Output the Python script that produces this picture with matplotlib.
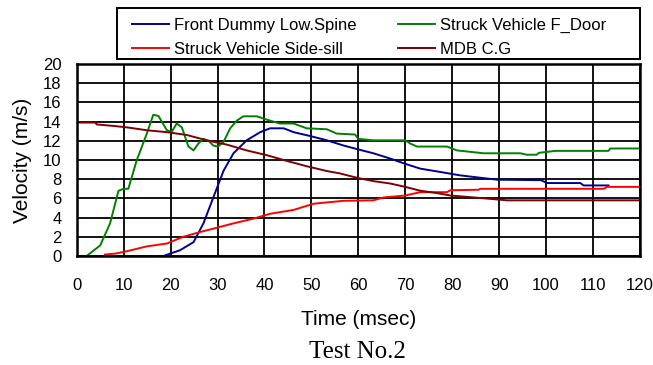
import matplotlib
matplotlib.use("Agg")
import matplotlib.pyplot as plt
from matplotlib.patches import Rectangle

# values (time in msec, velocity in m/s)
door_t = [2.1, 5.0, 7.1, 8.9, 10.0, 11.0, 12.8, 14.9, 16.3, 17.4, 19.2, 20.2, 21.3, 22.4,
          23.8, 24.9, 25.9, 27.0, 28.1, 29.1, 30.1, 31.3, 32.7, 34.1, 35.5, 38.4, 40.5,
          43.3, 46.2, 49.0, 53.3, 55.4, 59.3, 60.0, 63.2, 70.0, 71.1, 72.5, 78.9, 81.0,
          86.7, 94.5, 95.9, 98.0, 98.5, 102.0, 113.3, 113.7, 120]
door_v = [0, 1.1, 3.4, 6.8, 7.0, 7.0, 10.0, 12.7, 14.7, 14.6, 13.1, 12.9, 13.8, 13.4,
          11.4, 11.0, 11.7, 12.2, 12.0, 11.5, 11.4, 11.9, 13.3, 14.1, 14.55, 14.55, 14.2,
          13.8, 13.8, 13.3, 13.2, 12.75, 12.65, 12.2, 12.05, 12.05, 11.7, 11.4, 11.4, 11.0,
          10.7, 10.7, 10.55, 10.55, 10.75, 10.95, 10.95, 11.2, 11.2]

spine_t = [18.5, 19.9, 22.0, 24.9, 27.0, 29.1, 31.3, 33.4, 36.2, 39.1, 41.2, 44.1, 46.2,
           49.7, 53.3, 56.9, 60.0, 63.2, 66.8, 70.0, 73.2, 77.5, 81.7, 86.0, 89.6, 98.9,
           100.2, 107.3, 108.0, 113.3]
spine_v = [0, 0.25, 0.6, 1.45, 3.4, 6.1, 8.9, 10.7, 12.05, 12.9, 13.3, 13.3, 12.9,
           12.5, 12.05, 11.5, 11.1, 10.7, 10.15, 9.6, 9.1, 8.75, 8.4, 8.15, 7.95, 7.9,
           7.6, 7.6, 7.35, 7.35]

sill_t = [6.0, 8.2, 10.7, 14.9, 19.2, 22.7, 26.3, 29.9, 33.4, 37.7, 41.2, 46.2, 50.5,
          56.9, 63.2, 65.4, 70.0, 73.2, 78.9, 79.6, 85.6, 86.0, 112.3, 113.0, 120]
sill_v = [0.15, 0.25, 0.5, 1.0, 1.3, 2.0, 2.5, 2.95, 3.4, 3.9, 4.4, 4.8, 5.45,
          5.75, 5.8, 6.1, 6.3, 6.65, 6.65, 6.85, 6.9, 7.0, 7.0, 7.2, 7.2]

mdb_t = [0, 3.9, 4.3, 7.8, 10.7, 14.9, 19.2, 23.5, 27.7, 32.0, 36.2, 40.5, 44.8, 49.0,
         53.3, 56.1, 59.7, 63.2, 66.8, 70.0, 73.2, 76.8, 79.6, 84.6, 91.7, 120]
mdb_v = [13.9, 13.9, 13.7, 13.55, 13.4, 13.1, 12.9, 12.6, 12.05, 11.6, 11.0, 10.5, 9.9,
         9.35, 8.85, 8.6, 8.15, 7.8, 7.55, 7.2, 6.8, 6.55, 6.3, 6.1, 5.8, 5.8]

x_ticks = list(range(0, 121, 10))
y_ticks = list(range(0, 21, 2))

plt.rcParams['font.family'] = ['Liberation Sans', 'DejaVu Sans']

W, H = 653, 365
fig = plt.figure(figsize=(W / 100, H / 100), dpi=100)
ax = fig.add_axes([0.1175, 0.2986, 0.8625, 0.5261])

lw = 1.4
l_spine, = ax.plot(spine_t, spine_v, color='#000090', lw=lw, label='Front Dummy Low.Spine')
l_door, = ax.plot(door_t, door_v, color='#008000', lw=lw, label='Struck Vehicle F_Door')
l_sill, = ax.plot(sill_t, sill_v, color='#ff0000', lw=lw, label='Struck Vehicle Side-sill')
l_mdb, = ax.plot(mdb_t, mdb_v, color='#800000', lw=lw, label='MDB C.G')

ax.set_xlim(0, 120)
ax.set_ylim(0, 20)
ax.set_xticks(x_ticks)
ax.set_yticks(y_ticks)
ax.grid(True, color='black', lw=1.3)
ax.set_axisbelow(True)
for s in ax.spines.values():
    s.set_linewidth(1.8)
ax.tick_params(length=0, labelsize=12)
ax.tick_params(axis='x', pad=16)
ax.tick_params(axis='y', pad=11)
ax.set_xlabel('Time (msec)', fontsize=15, labelpad=12)
ax.set_ylabel('Velocity (m/s)', fontsize=15, labelpad=8)

# legend box drawn by hand, entries placed inside it
fig.patches.append(Rectangle((117 / W, 1 - 59 / H), 523 / W, 51 / H, transform=fig.transFigure,
                             facecolor='white', edgecolor='black', lw=1.4))
leg = fig.legend(handles=[l_spine, l_sill, l_door, l_mdb], ncol=2,
                 bbox_to_anchor=(127 / W, 1 - 13 / H), loc='upper left',
                 fontsize=12, frameon=False, handlelength=2.2, handletextpad=0.3,
                 columnspacing=2.5, labelspacing=0.55, borderpad=0.3, borderaxespad=0)

fig.text(357 / W, 1 - 358 / H, 'Test No.2', ha='center', va='baseline',
         fontsize=18, family=['Liberation Serif', 'DejaVu Serif'])

fig.savefig('out.png', dpi=100)
